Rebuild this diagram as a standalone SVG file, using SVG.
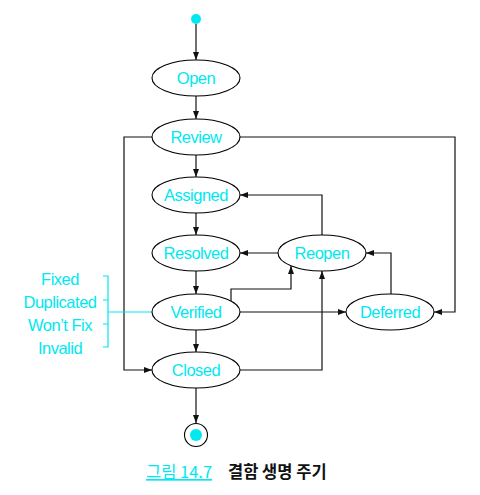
<svg xmlns="http://www.w3.org/2000/svg" width="480" height="495" viewBox="0 0 480 495">
<style>
.st{fill:#fff;stroke:#000;stroke-width:1.1}
.lb{font-family:"Liberation Sans",Arial,sans-serif;font-size:16.5px;fill:#00e8f0;text-anchor:middle;letter-spacing:-0.5px}
.ed{fill:none;stroke:#111;stroke-width:1.2}
.br{fill:none;stroke:#00e8f0;stroke-width:1.2}
.cap{font-family:"Noto Sans CJK KR","Liberation Sans",sans-serif;font-size:16.5px}
</style>
<defs>
<marker id="ar" viewBox="0 0 8 6" refX="8" refY="3" markerWidth="8" markerHeight="6" orient="auto" markerUnits="userSpaceOnUse">
<path d="M0,0 L8,3 L0,6 Z" fill="#111"/>
</marker>
</defs>
<g id="connectors">
<path class="ed" d="M196,24 V60" marker-end="url(#ar)"/>
<path class="ed" d="M196,96 V119" marker-end="url(#ar)"/>
<path class="ed" d="M196,155 V177" marker-end="url(#ar)"/>
<path class="ed" d="M196,213 V235" marker-end="url(#ar)"/>
<path class="ed" d="M196,271 V294" marker-end="url(#ar)"/>
<path class="ed" d="M196,330 V352" marker-end="url(#ar)"/>
<path class="ed" d="M196,388 V423" marker-end="url(#ar)"/>
<path class="ed" d="M152,137 H124 V370 H152" marker-end="url(#ar)"/>
<path class="ed" d="M240,137 H455 V312 H434" marker-end="url(#ar)"/>
<path class="ed" d="M322,235 V195 H240" marker-end="url(#ar)"/>
<path class="ed" d="M278,253 H240" marker-end="url(#ar)"/>
<path class="ed" d="M391,294 V253 H366" marker-end="url(#ar)"/>
<path class="ed" d="M240,312 H346" marker-end="url(#ar)"/>
<path class="ed" d="M231,301 V289 H291 V266" marker-end="url(#ar)"/>
<path class="ed" d="M240,370 H322 V271" marker-end="url(#ar)"/>
<path class="br" d="M103,276 H108 V347 H103 M103,300 H108 M103,324 H108 M108,312 H153"/>
</g>
<g id="start"><circle cx="196" cy="19" r="5" fill="#00e8f0"/></g>
<g id="open"><ellipse class="st" cx="196" cy="78" rx="44" ry="18"/><text class="lb" x="196" y="84">Open</text></g>
<g id="review"><ellipse class="st" cx="196" cy="137" rx="44" ry="18"/><text class="lb" x="196" y="143">Review</text></g>
<g id="assigned"><ellipse class="st" cx="196" cy="195" rx="44" ry="18"/><text class="lb" x="196" y="201">Assigned</text></g>
<g id="resolved"><ellipse class="st" cx="196" cy="253" rx="44" ry="18"/><text class="lb" x="196" y="259">Resolved</text></g>
<g id="reopen"><ellipse class="st" cx="322" cy="253" rx="44" ry="18"/><text class="lb" x="322" y="259">Reopen</text></g>
<g id="verified"><ellipse class="st" cx="196" cy="312" rx="44" ry="18"/><text class="lb" x="196" y="318">Verified</text></g>
<g id="deferred"><ellipse class="st" cx="390" cy="312" rx="44" ry="18"/><text class="lb" x="390" y="318">Deferred</text></g>
<g id="closed"><ellipse class="st" cx="196" cy="370" rx="44" ry="18"/><text class="lb" x="196" y="376">Closed</text></g>
<g id="end"><circle cx="196" cy="435" r="11.5" fill="#fff" stroke="#000" stroke-width="1.1"/><circle cx="196" cy="435" r="6" fill="#00e8f0"/></g>
<g id="resolutions">
<text class="lb" x="60" y="285">Fixed</text>
<text class="lb" x="60" y="308">Duplicated</text>
<text class="lb" x="60" y="331">Won’t Fix</text>
<text class="lb" x="60" y="354">Invalid</text>
</g>
<g id="caption">
<text class="cap" x="146" y="478" fill="#00e8f0" text-decoration="underline">그림 14.7</text>
<text class="cap" x="228" y="478" fill="#111" font-weight="bold">결함 생명 주기</text>
</g>
</svg>
